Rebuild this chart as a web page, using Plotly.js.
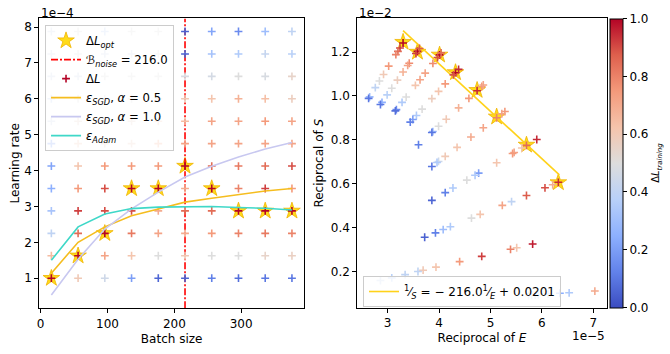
<!DOCTYPE html>
<html><head><meta charset="utf-8">
<script src="https://cdn.plot.ly/plotly-3.0.1.min.js"></script>
<style>html,body{margin:0;padding:0;background:#fff}#chart{width:670px;height:354px}</style>
</head><body><div id="chart"></div>
<script>
// ---------- Left panel data ----------
const batchSizes = [16, 56, 96, 136, 176, 216, 256, 296, 336, 376];
const learningRates = [1, 1.625, 2.25, 2.875, 3.5, 4.125, 4.75, 5.375, 6, 6.625, 7.25, 7.875]; // x1e-4
// deltaL per learning-rate row (bottom to top), per batch size column
const deltaLRow1 = [1.0, 0.6, 0.45, 0.2, 0.06, 0.05, 0.12, 0.08, 0.1, 0.1];
const deltaLRow2 = [0.65, 1.0, 0.72, 0.62, 0.5, 0.6, 0.5, 0.5, 0.55, 0.57];
const deltaLRow3 = [0.4, 0.85, 1.0, 0.82, 0.72, 0.7, 0.75, 0.8, 0.82, 0.8];
const deltaLRow4 = [0.33, 0.92, 0.9, 0.9, 0.7, 0.85, 0.85, 1.0, 1.0, 1.0];
const deltaLRow5 = [0.25, 0.75, 0.9, 1.0, 1.0, 0.7, 1.0, 0.8, 0.92, 0.75];
const deltaLRow6 = [0.22, 0.62, 0.75, 0.75, 0.75, 1.0, 0.85, 0.82, 0.85, 0.9];
const deltaLRow7 = [0.2, 0.6, 0.58, 0.58, 0.68, 0.72, 0.72, 0.72, 0.72, 0.72];
const deltaLRow8 = [0.45, 0.55, 0.55, 0.55, 0.6, 0.65, 0.72, 0.72, 0.75, 0.72];
const deltaLRow9 = [0.4, 0.5, 0.5, 0.5, 0.55, 0.6, 0.62, 0.68, 0.64, 0.58];
const deltaLRow10 = [0.45, 0.45, 0.5, 0.5, 0.5, 0.48, 0.47, 0.5, 0.48, 0.55];
const deltaLRow11 = [0.45, 0.5, 0.45, 0.45, 0.5, 0.05, 0.32, 0.35, 0.42, 0.38];
const deltaLRow12 = [0.45, 0.5, 0.4, 0.5, 0.5, 0.05, 0.22, 0.15, 0.3, 0.4];
const deltaLRows = [deltaLRow1, deltaLRow2, deltaLRow3, deltaLRow4, deltaLRow5, deltaLRow6,
                    deltaLRow7, deltaLRow8, deltaLRow9, deltaLRow10, deltaLRow11, deltaLRow12];
const optLearningRate = [1, 1.625, 2.25, 3.5, 3.5, 4.125, 3.5, 2.875, 2.875, 2.875];
const bNoise = 216.0;
const epsSGD05 = [1.14, 2.0, 2.43, 2.74, 2.93, 3.12, 3.23, 3.34, 3.43, 3.5];
const epsSGD10 = [0.53, 1.53, 2.37, 2.93, 3.4, 3.82, 4.12, 4.38, 4.6, 4.78];
const epsAdam = [1.5, 2.43, 2.79, 2.94, 2.98, 3.0, 3.0, 2.97, 2.95, 2.9];
const leftYRange = [0.16, 8.24];

// ---------- Right panel data ----------
const rightBatchSizes = [376, 336, 296, 256, 216, 176, 136, 96, 56, 16];
const rightInvE = [ // x1e-5
  [3.30, 3.24, 3.20, 3.16, 3.02, 2.92, 2.84, 2.76, 2.65, 2.63],
  [3.58, 3.55, 3.62, 3.42, 3.39, 3.30, 3.19, 3.08, 2.99, 2.89, 2.86],
  [4.01, 3.97, 4.04, 3.88, 3.73, 3.63, 3.54, 3.36, 3.28, 3.17, 3.15],
  [4.32, 4.38, 4.28, 4.12, 3.99, 3.86, 3.67, 3.56, 3.49, 3.44],
  [4.74, 4.83, 4.86, 4.58, 4.38, 4.14, 3.99, 3.88, 3.86, 3.60],
  [5.12, 5.28, 5.22, 4.86, 4.62, 4.35, 4.12, 3.99, 3.96, 3.86],
  [5.70, 5.90, 5.61, 5.46, 5.43, 5.12, 4.77, 4.70, 4.54, 4.27, 4.12, 3.86],
  [6.32, 6.21, 6.06, 5.70, 5.41, 5.23, 4.80, 4.63, 4.22, 4.08, 3.93, 3.72],
  [5.82, 5.51, 5.39, 4.83, 4.40, 3.94, 3.69, 3.59, 3.34, 3.08, 2.86],
  [7.03, 6.53, 6.35, 6.12, 5.93, 5.87, 5.80, 5.74]
];
const rightInvS = [ // x1e-2
  [1.241, 1.218, 1.203, 1.188, 1.136, 1.098, 1.068, 1.038, 0.996, 0.989],
  [1.203, 1.193, 1.216, 1.149, 1.139, 1.109, 1.072, 1.035, 1.005, 0.971, 0.961],
  [1.187, 1.175, 1.196, 1.148, 1.104, 1.074, 1.048, 0.995, 0.971, 0.938, 0.932],
  [1.106, 1.121, 1.096, 1.055, 1.021, 0.988, 0.940, 0.911, 0.893, 0.881],
  [1.024, 1.043, 1.050, 0.989, 0.946, 0.894, 0.862, 0.838, 0.834, 0.778],
  [0.901, 0.929, 0.919, 0.855, 0.813, 0.766, 0.725, 0.702, 0.697, 0.679],
  [0.775, 0.802, 0.763, 0.743, 0.738, 0.696, 0.649, 0.639, 0.617, 0.581, 0.560, 0.525],
  [0.607, 0.596, 0.582, 0.547, 0.519, 0.502, 0.461, 0.444, 0.405, 0.392, 0.377, 0.357],
  [0.326, 0.309, 0.302, 0.270, 0.246, 0.221, 0.207, 0.201, 0.187, 0.172, 0.160],
  [0.112, 0.104, 0.102, 0.098, 0.095, 0.094, 0.093, 0.092]
];
const rightDeltaL = [
  [1.0, 0.92, 0.85, 0.8, 0.75, 0.6, 0.5, 0.4, 0.3, 0.1],
  [1.0, 0.92, 0.88, 0.78, 0.72, 0.68, 0.58, 0.5, 0.38, 0.25, 0.1],
  [1.0, 0.9, 0.85, 0.78, 0.72, 0.72, 0.62, 0.5, 0.35, 0.15, 0.08],
  [1.0, 0.95, 0.9, 0.75, 0.62, 0.58, 0.5, 0.35, 0.2, 0.12],
  [0.95, 0.75, 0.72, 0.75, 0.68, 0.6, 0.5, 0.3, 0.1, 0.12],
  [0.8, 0.75, 0.72, 0.72, 0.7, 0.62, 0.6, 0.45, 0.35, 0.1],
  [0.85, 0.95, 0.62, 0.72, 0.75, 0.62, 0.2, 0.35, 0.5, 0.35, 0.12, 0.06],
  [0.95, 0.7, 0.9, 0.88, 0.4, 0.72, 0.62, 0.5, 0.35, 0.3, 0.12, 0.05],
  [0.97, 0.62, 0.8, 0.92, 0.75, 0.62, 0.6, 0.4, 0.4, 0.38, 0.42],
  [0.7, 0.35, 0.25, 0.35, 0.4, 0.4, 0.45, 0.45]
];
const optInvE = [3.30, 3.58, 4.01, 4.32, 4.74, 5.12, 5.70, 6.32];
const optInvS = [1.245, 1.200, 1.187, 1.107, 1.026, 0.905, 0.777, 0.606];
const fitInvE = [3.30, 6.34];
const fitInvS = [1.297, 0.641];

// ---------- build ----------
const coolwarm = [[0,'#3b4cc0'],[0.125,'#6282ea'],[0.25,'#8db0fe'],[0.375,'#b8d0f9'],[0.5,'#dddddd'],
                  [0.625,'#f5c4ac'],[0.75,'#f49a7b'],[0.875,'#de604d'],[1,'#b40426']];

const gx = [], gy = [], gc = [];
learningRates.forEach((lr, i) => {
  batchSizes.forEach((b, j) => { gx.push(b); gy.push(lr); gc.push(deltaLRows[i][j]); });
});
const rx = [], ry = [], rc = [];
rightInvE.forEach((row, i) => row.forEach((v, j) => { rx.push(v); ry.push(rightInvS[i][j]); rc.push(rightDeltaL[i][j]); }));

const starMarker = {symbol:'star', size:12.5, color:'rgba(255,215,0,0.9)', line:{color:'#f0b400', width:0.8}};
const crossSize = 5.6, crossWidth = 1.6;

const traces = [
  {x: batchSizes, y: optLearningRate, xaxis:'x', yaxis:'y', mode:'markers', type:'scatter',
   name:'Δ<i>L</i><sub><i>opt</i></sub>', legendrank:1, marker: starMarker},
  {x:[bNoise, bNoise], y: leftYRange, xaxis:'x', yaxis:'y', mode:'lines', type:'scatter',
   name:'ℬ<sub><i>noise</i></sub> = 216.0', legendrank:2,
   line:{color:'#ff0000', width:1.6, dash:'7px,2px,2px,2px'}},
  {x: gx, y: gy, xaxis:'x', yaxis:'y', mode:'markers', type:'scatter', name:'Δ<i>L</i>', legendrank:3,
   marker:{symbol:'cross-thin-open', size:crossSize, color: gc, colorscale: coolwarm, cmin:0, cmax:1,
           showscale:false, line:{width:crossWidth}}},
  {x: batchSizes, y: epsSGD05, xaxis:'x', yaxis:'y', mode:'lines', type:'scatter', legendrank:4,
   name:'<i>ε</i><sub><i>SGD</i></sub>, <i>α</i> = 0.5', line:{color:'#f5bd1f', width:1.6}},
  {x: batchSizes, y: epsSGD10, xaxis:'x', yaxis:'y', mode:'lines', type:'scatter', legendrank:5,
   name:'<i>ε</i><sub><i>SGD</i></sub>, <i>α</i> = 1.0', line:{color:'#c8c8f0', width:1.6}},
  {x: batchSizes, y: epsAdam, xaxis:'x', yaxis:'y', mode:'lines', type:'scatter', legendrank:6,
   name:'<i>ε</i><sub><i>Adam</i></sub>', line:{color:'#3fd8c8', width:1.6}},
  // right panel
  {x: optInvE, y: optInvS, xaxis:'x2', yaxis:'y2', mode:'markers', type:'scatter', showlegend:false,
   marker: starMarker},
  {x: fitInvE, y: fitInvS, xaxis:'x2', yaxis:'y2', mode:'lines', type:'scatter', legend:'legend2',
   name:'<sup>1</sup>⁄<sub><i>S</i></sub> = − 216.0<sup>1</sup>⁄<sub><i>E</i></sub> + 0.0201',
   line:{color:'#ffd21a', width:1.6}},
  {x: rx, y: ry, xaxis:'x2', yaxis:'y2', mode:'markers', type:'scatter', showlegend:false,
   marker:{symbol:'cross-thin-open', size:crossSize, color: rc, colorscale: coolwarm, cmin:0, cmax:1,
           line:{width:crossWidth}, showscale:true,
           colorbar:{x:0.9104, xanchor:'left', y:0.5395, yanchor:'middle', len:0.8175, lenmode:'fraction',
                     thickness:13, xpad:0, ypad:0, outlinewidth:1, outlinecolor:'#000',
                     tickvals:[0,0.2,0.4,0.6,0.8,1.0], tickformat:'.1f', ticks:'outside', ticklen:4,
                     tickcolor:'#000', tickfont:{size:12, color:'#000'},
                     title:{text:'Δ<i>L</i><sub><i>training</i></sub>', side:'right', font:{size:10}}}}}
];

const axisBase = {showline:true, mirror:true, linecolor:'#000', linewidth:1, showgrid:false, zeroline:false,
                  ticks:'outside', ticklen:4, tickwidth:1, tickcolor:'#000', tickfont:{size:12, color:'#000'}};

const layout = {
  width:670, height:354, margin:{l:0, r:0, t:0, b:0},
  paper_bgcolor:'#fff', plot_bgcolor:'#fff',
  font:{family:'DejaVu Sans', size:12, color:'#000'},
  xaxis: Object.assign({}, axisBase, {domain:[0.0587, 0.4537], range:[-2, 394], tickvals:[0,100,200,300],
          title:{text:'Batch size', standoff:4, font:{size:12}}}),
  yaxis: Object.assign({}, axisBase, {domain:[0.129, 0.948], range: leftYRange, tickvals:[1,2,3,4,5,6,7,8],
          title:{text:'Learning rate', standoff:2, font:{size:12}}}),
  xaxis2: Object.assign({}, axisBase, {anchor:'y2', domain:[0.5333, 0.9055], range:[2.41, 7.26], tickvals:[3,4,5,6,7],
          title:{text:'Reciprocal of <i>E</i>', standoff:4, font:{size:12}}}),
  yaxis2: Object.assign({}, axisBase, {anchor:'x2', domain:[0.13, 0.948], range:[0.035, 1.353],
          tickvals:[0.2,0.4,0.6,0.8,1.0,1.2], tickformat:'.1f',
          title:{text:'Reciprocal of <i>S</i>', standoff:4, font:{size:12}}}),
  legend:{x:0.0672, y:0.929, xanchor:'left', yanchor:'top', bgcolor:'rgba(255,255,255,0.8)',
          bordercolor:'#cccccc', borderwidth:1, font:{size:11.7}, tracegroupgap:0, itemwidth:30},
  legend2:{x:0.5418, y:0.2203, xanchor:'left', yanchor:'top', bgcolor:'rgba(255,255,255,0.8)',
          bordercolor:'#cccccc', borderwidth:1, font:{size:12}, itemwidth:30},
  annotations:[
    {text:'1e−4', xref:'paper', yref:'paper', x:0.0582, y:0.964, xanchor:'left', yanchor:'middle', showarrow:false, font:{size:12}},
    {text:'1e−2', xref:'paper', yref:'paper', x:0.5333, y:0.964, xanchor:'left', yanchor:'middle', showarrow:false, font:{size:12}},
    {text:'1e−5', xref:'paper', yref:'paper', x:0.9055, y:0.051, xanchor:'right', yanchor:'middle', showarrow:false, font:{size:12}}
  ]
};

Plotly.newPlot('chart', traces, layout, {staticPlot:true, displayModeBar:false});
</script></body></html>
